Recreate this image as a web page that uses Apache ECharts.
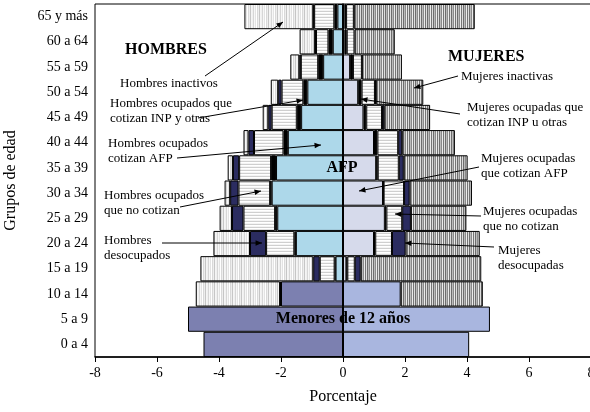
<!DOCTYPE html>
<html>
<head>
<meta charset="utf-8">
<script src="https://cdn.jsdelivr.net/npm/echarts@6/dist/echarts.min.js"></script>
<style>
  html, body { margin: 0; padding: 0; background: #fff; }
  #fig_piramide { width: 590px; height: 412px; }
</style>
</head>
<body>
<div id="fig_piramide"></div>
<script>
// age groups, bottom to top
var categories = ['0 a 4', '5 a 9', '10 a 14', '15 a 19', '20 a 24', '25 a 29', '30 a 34',
    '35 a 39', '40 a 44', '45 a 49', '50 a 54', '55 a 59', '60 a 64', '65 y más'];

var xTicks = [-8, -6, -4, -2, 0, 2, 4, 6, 8];

// hombres (% , drawn to the left)
var menoresH = [4.50, 5.00, 2.00, 0, 0, 0, 0, 0, 0, 0, 0, 0, 0, 0];
var afpH     = [0, 0, 0, 0.24, 1.52, 2.12, 2.30, 2.16, 1.78, 1.35, 1.15, 0.64, 0.33, 0.18];
var inpH     = [0, 0, 0, 0.03, 0.05, 0.07, 0.05, 0.16, 0.14, 0.14, 0.13, 0.16, 0.14, 0.10];
var noCotH   = [0, 0, 0.03, 0.48, 0.91, 1.02, 1.02, 1.03, 0.95, 0.81, 0.70, 0.56, 0.40, 0.65];
var desocH   = [0, 0, 0, 0.21, 0.52, 0.37, 0.27, 0.20, 0.18, 0.11, 0.11, 0.05, 0.03, 0.03];
var inacH    = [0, 0, 2.72, 3.64, 1.18, 0.40, 0.18, 0.17, 0.16, 0.18, 0.24, 0.29, 0.50, 2.22];

// mujeres (%, drawn to the right)
var menoresM = [4.07, 4.74, 1.86, 0, 0, 0, 0, 0, 0, 0, 0, 0, 0, 0];
var afpM     = [0, 0, 0, 0.11, 1.00, 1.35, 1.29, 1.07, 1.00, 0.66, 0.49, 0.23, 0.05, 0.05];
var inpM     = [0, 0, 0, 0.03, 0.04, 0.05, 0.02, 0.05, 0.11, 0.09, 0.11, 0.09, 0.07, 0.05];
var noCotM   = [0, 0, 0, 0.24, 0.54, 0.51, 0.66, 0.68, 0.67, 0.51, 0.43, 0.29, 0.25, 0.25];
var desocM   = [0, 0, 0, 0.19, 0.44, 0.28, 0.18, 0.16, 0.13, 0.07, 0.03, 0, 0, 0];
var inacM    = [0, 0, 2.65, 3.89, 2.39, 1.79, 2.01, 2.06, 1.70, 1.48, 1.53, 1.29, 1.30, 3.90];

var serif = '"Liberation Serif", "DejaVu Serif", serif';

// small canvas fills for the hatched segments
function pattern(w, h, cols, vertical) {
    var c = document.createElement('canvas');
    c.width = w;
    c.height = h;
    var ctx = c.getContext('2d');
    for (var i = 0; i < cols.length; i++) {
        ctx.fillStyle = cols[i];
        if (vertical) ctx.fillRect(i, 0, 1, h);
        else ctx.fillRect(0, i, w, 1);
    }
    return { image: c, repeat: 'repeat' };
}

var fillNoCot = pattern(4, 3, ['#ffffff', '#f4f4f4', '#cfcfcf'], false);
var fillInacH = pattern(9, 4, ['#f0f0f0', '#d6d6d6', '#f7f7f7', '#e3e3e3', '#ffffff', '#d9d9d9', '#eeeeee', '#c6c6c6', '#f5f5f5'], true);
var fillInacM = pattern(6, 4, ['#dedede', '#6e6e6e', '#bcbcbc', '#8a8a8a', '#ececec', '#767676'], true);

function neg(arr) {
    return arr.map(function(v) { return v ? -v : '-'; });
}
function pos(arr) {
    return arr.map(function(v) { return v ? v : '-'; });
}

function seg(name, data, color) {
    return {
        name: name,
        type: 'bar',
        stack: 'total',
        barWidth: '100%',
        data: data,
        itemStyle: { color: color, borderColor: '#000', borderWidth: 1 },
        emphasis: { disabled: true }
    };
}

var series = [
    seg('Menores H', neg(menoresH), '#7c80b0'),
    seg('AFP H', neg(afpH), '#add8ea'),
    seg('INP H', neg(inpH), '#000000'),
    seg('No cotizan H', neg(noCotH), fillNoCot),
    seg('Desocupados H', neg(desocH), '#2b2c60'),
    seg('Inactivos H', neg(inacH), fillInacH),
    seg('Menores M', pos(menoresM), '#a9b6df'),
    seg('AFP M', pos(afpM), '#d6daeb'),
    seg('INP M', pos(inpM), '#000000'),
    seg('No cotizan M', pos(noCotM), fillNoCot),
    seg('Desocupadas M', pos(desocM), '#2b2c60'),
    seg('Inactivas M', pos(inacM), fillInacM)
];

// zero line
series[series.length - 1].markLine = {
    silent: true,
    symbol: 'none',
    label: { show: false },
    lineStyle: { color: '#000', width: 1.5, type: 'solid' },
    data: [{ xAxis: 0 }]
};

function txt(x, y, s, opt) {
    opt = opt || {};
    return {
        type: 'text', x: x, y: y, z: 100,
        style: {
            text: s,
            font: (opt.bold ? 'bold ' : '') + (opt.size || 13) + 'px ' + serif,
            fill: '#000',
            align: opt.align || 'left',
            verticalAlign: 'middle',
            lineHeight: 15
        }
    };
}
function arrow(x1, y1, x2, y2) {
    var a = Math.atan2(y2 - y1, x2 - x1), L = 7, w = 0.4;
    return [
        { type: 'line', z: 100, shape: { x1: x1, y1: y1, x2: x2, y2: y2 }, style: { stroke: '#000', lineWidth: 1 } },
        { type: 'polygon', z: 100, shape: { points: [
            [x2, y2],
            [x2 - L * Math.cos(a - w), y2 - L * Math.sin(a - w)],
            [x2 - L * Math.cos(a + w), y2 - L * Math.sin(a + w)]
        ] }, style: { fill: '#000' } }
    ];
}

var graphics = [
    txt(125, 50, 'HOMBRES', { bold: true, size: 16 }),
    txt(448, 57, 'MUJERES', { bold: true, size: 16 }),
    txt(342, 168, 'AFP', { bold: true, size: 16, align: 'center' }),
    txt(343, 319, 'Menores de 12 años', { bold: true, size: 16, align: 'center' }),
    txt(120, 84, 'Hombres inactivos'),
    txt(110, 111, 'Hombres ocupados que\ncotizan INP y otras'),
    txt(108, 151, 'Hombres ocupados\ncotizan AFP'),
    txt(104, 203, 'Hombres ocupados\nque no cotizan'),
    txt(104, 248, 'Hombres\ndesocupados'),
    txt(461, 77, 'Mujeres inactivas'),
    txt(467, 115, 'Mujeres ocupadas que\ncotizan INP u otras'),
    txt(481, 166, 'Mujeres ocupadas\nque cotizan AFP'),
    txt(483, 219, 'Mujeres ocupadas\nque no cotizan'),
    txt(498, 258, 'Mujeres\ndesocupadas')
];
graphics = graphics
    .concat(arrow(205, 76, 283, 22))
    .concat(arrow(198, 118, 303, 100))
    .concat(arrow(177, 158, 321, 145))
    .concat(arrow(180, 207, 261, 191))
    .concat(arrow(162, 243, 262, 243))
    .concat(arrow(458, 76, 414, 88))
    .concat(arrow(460, 114, 361, 99))
    .concat(arrow(479, 167, 359, 191))
    .concat(arrow(481, 216, 395, 214))
    .concat(arrow(494, 247, 405, 243));

var option = {
    animation: false,
    grid: {
        left: 95,
        top: 4,
        width: 496,
        height: 353,
        show: true,
        borderColor: '#000',
        borderWidth: 1,
        containLabel: false,
        outerBoundsMode: 'none'
    },
    xAxis: {
        type: 'value',
        min: xTicks[0],
        max: xTicks[xTicks.length - 1],
        interval: 2,
        name: 'Porcentaje',
        nameLocation: 'middle',
        nameGap: 32,
        nameTextStyle: { fontFamily: serif, fontSize: 16, color: '#000' },
        axisLine: { show: true, lineStyle: { color: '#000', width: 1.5 } },
        axisTick: { show: true, length: 5, lineStyle: { color: '#000' } },
        axisLabel: { fontFamily: serif, fontSize: 14, color: '#000', margin: 9 },
        splitLine: { show: false }
    },
    yAxis: {
        type: 'category',
        data: categories,
        name: 'Grupos de edad',
        nameLocation: 'middle',
        nameGap: 76,
        nameTextStyle: { fontFamily: serif, fontSize: 16, color: '#000' },
        axisLine: { show: true, lineStyle: { color: '#000', width: 1.5 } },
        axisTick: { show: false },
        axisLabel: { fontFamily: serif, fontSize: 14, color: '#000', margin: 7 },
        splitLine: { show: false }
    },
    series: series,
    graphic: graphics
};

var chart = echarts.init(document.getElementById('fig_piramide'));
chart.setOption(option);
</script>
</body>
</html>
